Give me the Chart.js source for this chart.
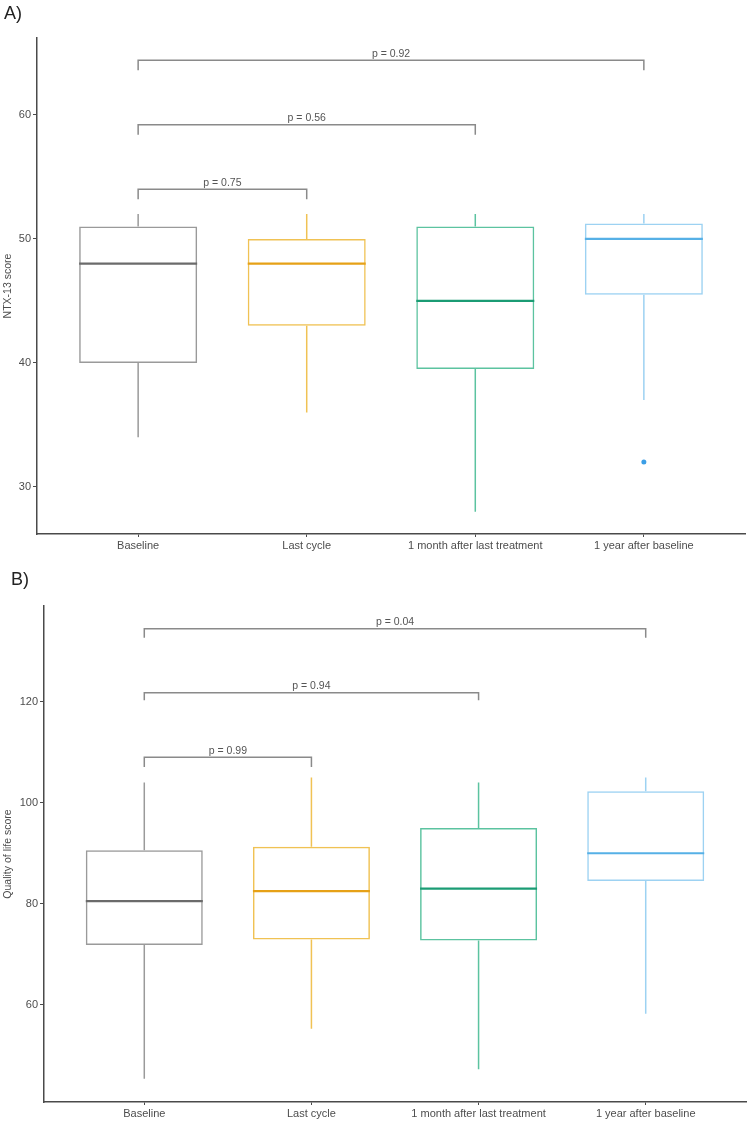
<!DOCTYPE html>
<html lang="en">
<head>
<meta charset="UTF-8">
<title>NTX-13 and quality of life scores</title>
<script src="https://cdn.jsdelivr.net/npm/chart.js"></script>
<style>
  body { margin: 0; background: #fff; font-family: "Liberation Sans", Arial, sans-serif; }
  #wrap { position: relative; width: 749px; height: 1122px; }
  canvas { position: absolute; left: 0; }
  .panel { position: absolute; font-size: 18px; color: #222; z-index: 2; }
</style>
</head>
<body>
<div id="wrap">
  <div class="panel" style="left:4px; top:3px">A)</div>
  <canvas id="chartA" width="749" height="556" style="top:0"></canvas>
  <div class="panel" style="left:11px; top:569px">B)</div>
  <canvas id="chartB" width="749" height="566" style="top:556px"></canvas>
</div>
<script>
  const categories = ['Baseline', 'Last cycle', '1 month after last treatment', '1 year after baseline'];

  // A) NTX-13 score
  const ntxMin = [34, 36, 28, 37];
  const ntxQ1 = [40, 43, 39.5, 45.5];
  const ntxMedian = [48, 48, 45, 50];
  const ntxQ3 = [51, 50, 51, 51.25];
  const ntxMax = [52, 52, 52, 52];
  const ntxOutliers = [[], [], [], [32]];
  const ntxTicks = [30, 40, 50, 60];
  const ntxBracketTo = [1, 2, 3];
  const ntxBracketY = [54, 59.2, 64.4];
  const ntxBracketTip = [53.2, 58.4, 63.6];
  const ntxPLabels = ['p = 0.75', 'p = 0.56', 'p = 0.92'];

  // B) Quality of life score
  const qolMin = [45.3, 55.2, 47.2, 58.2];
  const qolQ1 = [71.8, 72.9, 72.7, 84.5];
  const qolMedian = [80.5, 82.5, 83, 90];
  const qolQ3 = [90.6, 91.3, 95, 102.3];
  const qolMax = [104, 105, 104, 105];
  const qolOutliers = [[], [], [], []];
  const qolTicks = [60, 80, 100, 120];
  const qolBracketTo = [1, 2, 3];
  const qolBracketY = [109, 121.8, 134.5];
  const qolBracketTip = [107.1, 120.3, 132.7];
  const qolPLabels = ['p = 0.99', 'p = 0.94', 'p = 0.04'];

  const boxColors = ['#9a9a9a', '#f0c254', '#5cc3a0', '#9dd2f2'];
  const medianColors = ['#6b6b6b', '#e6a117', '#1b9c74', '#56b0e6'];
  const axisColor = '#4a4a4a';

  Chart.defaults.font.family = '"Liberation Sans", Arial, sans-serif';
  Chart.defaults.color = '#4d4d4d';

  // whiskers, medians and the p-value brackets
  function boxParts(panel) {
    return {
      id: 'boxParts',
      afterDatasetsDraw(chart) {
        const ctx = chart.ctx, xs = chart.scales.x, ys = chart.scales.y;
        const bars = chart.getDatasetMeta(0).data;
        ctx.save();
        panel.median.forEach((m, i) => {
          const cx = xs.getPixelForValue(i + 1);
          const half = bars[i].width / 2;
          ctx.strokeStyle = boxColors[i];
          ctx.lineWidth = 1.5;
          ctx.beginPath();
          ctx.moveTo(cx, ys.getPixelForValue(panel.q3[i]));
          ctx.lineTo(cx, ys.getPixelForValue(panel.max[i]));
          ctx.moveTo(cx, ys.getPixelForValue(panel.q1[i]));
          ctx.lineTo(cx, ys.getPixelForValue(panel.min[i]));
          ctx.stroke();
          ctx.strokeStyle = medianColors[i];
          ctx.lineWidth = 2.2;
          ctx.beginPath();
          ctx.moveTo(cx - half, ys.getPixelForValue(m));
          ctx.lineTo(cx + half, ys.getPixelForValue(m));
          ctx.stroke();
        });

        ctx.strokeStyle = '#8a8a8a';
        ctx.lineWidth = 1.5;
        ctx.fillStyle = '#555';
        ctx.font = '10.5px "Liberation Sans", Arial, sans-serif';
        ctx.textAlign = 'center';
        ctx.textBaseline = 'alphabetic';
        panel.bracketTo.forEach((to, k) => {
          const x1 = xs.getPixelForValue(1), x2 = xs.getPixelForValue(to + 1);
          const yl = ys.getPixelForValue(panel.bracketY[k]);
          const yt = ys.getPixelForValue(panel.bracketTip[k]);
          ctx.beginPath();
          ctx.moveTo(x1, yt);
          ctx.lineTo(x1, yl);
          ctx.lineTo(x2, yl);
          ctx.lineTo(x2, yt);
          ctx.stroke();
          ctx.fillText(panel.pLabels[k], (x1 + x2) / 2, yl - 3.5);
        });
        ctx.restore();
      }
    };
  }

  function makeChart(id, panel) {
    const outlierPoints = [];
    panel.outliers.forEach((list, i) => list.forEach(v => outlierPoints.push({ x: i + 1, y: v })));

    return new Chart(document.getElementById(id), {
      type: 'bar',
      data: {
        datasets: [{
          data: categories.map((c, i) => ({ x: i + 1, y: [panel.q1[i], panel.q3[i]] })),
          backgroundColor: 'rgba(255,255,255,0)',
          borderColor: boxColors,
          borderWidth: 1.5,
          borderSkipped: false,
          barPercentage: 0.7,
          categoryPercentage: 1
        }, {
          type: 'scatter',
          data: outlierPoints,
          pointRadius: 2.5,
          pointBackgroundColor: '#3b9ee6',
          pointBorderWidth: 0
        }]
      },
      options: {
        responsive: false,
        animation: false,
        layout: { padding: { top: panel.padTop, right: 3, left: 0, bottom: 0 } },
        plugins: { legend: { display: false }, tooltip: { enabled: false } },
        scales: {
          x: {
            type: 'linear',
            min: 0.4,
            max: 4.6,
            offset: false,
            afterBuildTicks: s => { s.ticks = categories.map((c, i) => ({ value: i + 1 })); },
            afterFit: s => { s.height = panel.xHeight; },
            ticks: { callback: v => categories[v - 1], font: { size: 11 }, padding: 2, autoSkip: false, maxRotation: 0 },
            grid: { offset: false, drawOnChartArea: false, tickLength: 3, color: axisColor },
            border: { color: axisColor, width: 1.5 }
          },
          y: {
            min: panel.yMin,
            max: panel.yMax,
            afterBuildTicks: s => { s.ticks = panel.ticks.map(v => ({ value: v })); },
            afterFit: s => { s.width = panel.yWidth; },
            ticks: { font: { size: 11 }, padding: 2 },
            grid: { drawOnChartArea: false, tickLength: 4, color: axisColor },
            border: { color: axisColor, width: 1.5 },
            title: { display: true, text: panel.title, font: { size: 10.5 }, padding: { top: 2, bottom: 0 } }
          }
        }
      },
      plugins: [boxParts(panel)]
    });
  }

  makeChart('chartA', {
    min: ntxMin, q1: ntxQ1, median: ntxMedian, q3: ntxQ3, max: ntxMax, outliers: ntxOutliers,
    ticks: ntxTicks, bracketTo: ntxBracketTo, bracketY: ntxBracketY, bracketTip: ntxBracketTip, pLabels: ntxPLabels,
    title: 'NTX-13 score', yMin: 26.2, yMax: 66.2, padTop: 38, yWidth: 37, xHeight: 22
  });

  makeChart('chartB', {
    min: qolMin, q1: qolQ1, median: qolMedian, q3: qolQ3, max: qolMax, outliers: qolOutliers,
    ticks: qolTicks, bracketTo: qolBracketTo, bracketY: qolBracketY, bracketTip: qolBracketTip, pLabels: qolPLabels,
    title: 'Quality of life score', yMin: 40.7, yMax: 139, padTop: 50, yWidth: 44, xHeight: 20
  });
</script>
</body>
</html>
